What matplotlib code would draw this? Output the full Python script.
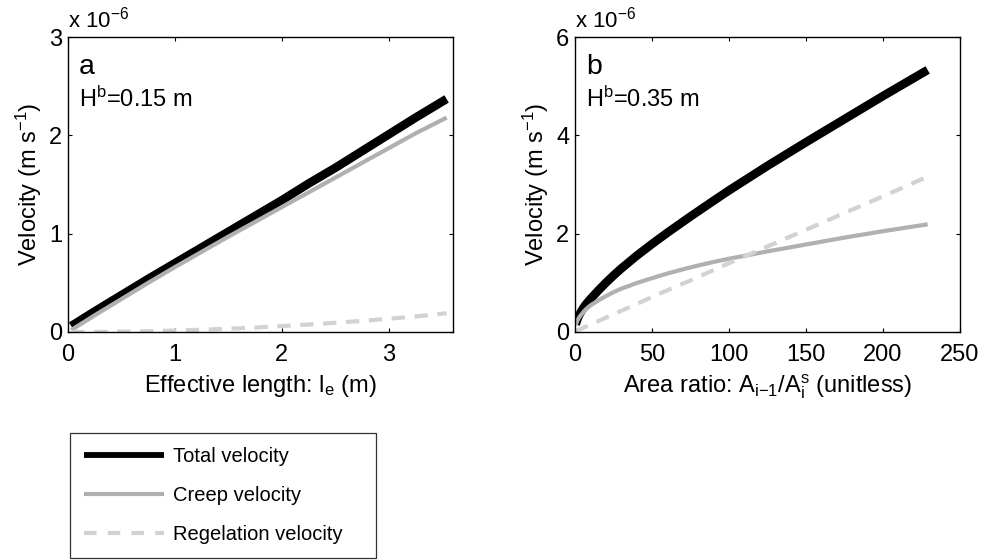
import matplotlib
matplotlib.use("Agg")
import matplotlib.pyplot as plt
from matplotlib.lines import Line2D

plt.rcParams['font.family'] = ['Liberation Sans', 'DejaVu Sans']
plt.rcParams['mathtext.fontset'] = 'custom'
plt.rcParams['mathtext.rm'] = 'Liberation Sans'
plt.rcParams['mathtext.it'] = 'Liberation Sans:italic'
plt.rcParams['mathtext.bf'] = 'Liberation Sans:bold'

# Panel a: velocity vs effective length (units of 1e-6 m/s)
length_a = [0.03, 0.25, 0.5, 0.75, 1.0, 1.25, 1.5, 1.75, 2.0, 2.25, 2.5, 2.75, 3.0, 3.25, 3.54]
total_a = [0.06, 0.21, 0.375, 0.54, 0.70, 0.86, 1.02, 1.18, 1.34, 1.51, 1.67, 1.84, 2.01, 2.18, 2.37]
creep_a = [0.02, 0.17, 0.335, 0.50, 0.66, 0.815, 0.97, 1.12, 1.27, 1.42, 1.57, 1.72, 1.87, 2.02, 2.18]
regel_a = [0.0, 0.001, 0.004, 0.008, 0.015, 0.023, 0.033, 0.045, 0.06, 0.076, 0.094, 0.113, 0.135, 0.158, 0.19]

# Panel b: velocity vs area ratio (units of 1e-6 m/s)
ratio_b = [0.5, 1, 2, 3, 5, 7, 10, 15, 20, 25, 30, 40, 50, 60, 75, 90, 100,
           125, 150, 175, 200, 229]
total_b = [0.15, 0.21, 0.30, 0.36, 0.47, 0.56, 0.67, 0.84, 1.00, 1.15, 1.29, 1.55,
           1.79, 2.02, 2.35, 2.67, 2.88, 3.38, 3.86, 4.33, 4.80, 5.33]
creep_b = [0.14, 0.19, 0.26, 0.31, 0.39, 0.46, 0.54, 0.64, 0.73, 0.81, 0.88, 0.995,
           1.095, 1.19, 1.315, 1.425, 1.49, 1.64, 1.78, 1.92, 2.05, 2.19]
regel_b = [0.01, 0.02, 0.04, 0.05, 0.08, 0.11, 0.15, 0.22, 0.29, 0.36, 0.43, 0.57,
           0.71, 0.85, 1.05, 1.26, 1.40, 1.74, 2.08, 2.42, 2.76, 3.16]

xticks_a = [0, 1, 2, 3]
yticks_a = [0, 1, 2, 3]
xticks_b = [0, 50, 100, 150, 200, 250]
yticks_b = [0, 2, 4, 6]

series_labels = ['Total velocity', 'Creep velocity', 'Regelation velocity']

BLACK = 'black'
CREEP = '#b0b0b0'
REGEL = '#d2d2d2'
FS = 17

W, H = 986, 560
fig = plt.figure(figsize=(W / 100, H / 100), dpi=100)


def add_panel(left_px):
    return fig.add_axes([left_px / W, 1 - 332 / H, 385 / W, 295 / H])


def style(ax, xlim, ylim, xt, yt):
    ax.set_xlim(*xlim)
    ax.set_ylim(*ylim)
    ax.set_xticks(xt)
    ax.set_yticks(yt)
    ax.set_xticklabels([str(v) for v in xt])
    ax.set_yticklabels([str(v) for v in yt])
    ax.tick_params(direction='in', length=3.2, width=0.8, top=True, right=True,
                   labelsize=FS)
    ax.tick_params(axis='x', pad=8.5)
    ax.tick_params(axis='y', pad=4)
    for s in ax.spines.values():
        s.set_linewidth(1.0)
    ax.annotate(r'x 10$^{\mathregular{-6}}$', xy=(0, 1), xycoords='axes fraction',
                xytext=(0, 6.5), textcoords='offset points', ha='left',
                va='baseline', fontsize=16)


def draw(ax, x, tot, cr, rg):
    ax.plot(x, tot, color=BLACK, lw=6.2, solid_capstyle='butt', solid_joinstyle='round')
    ax.plot(x, cr, color=CREEP, lw=3.0, solid_capstyle='butt', solid_joinstyle='round')
    ax.plot(x, rg, color=REGEL, lw=3.0, dashes=(3.2, 2.3))


ax_a = add_panel(68)
draw(ax_a, length_a, total_a, creep_a, regel_a)
style(ax_a, (0, 3.6), (0, 3), xticks_a, yticks_a)
ax_a.set_ylabel(r'Velocity (m s$^{\mathregular{-1}}$)', fontsize=FS, labelpad=4)
ax_a.set_xlabel(r'Effective length: l$_{\mathregular{e}}$ (m)', fontsize=FS, labelpad=5)
ax_a.text(0.028, 0.875, 'a', transform=ax_a.transAxes, fontsize=20.5, va='baseline')
ax_a.text(0.028, 0.763, r'H$^{\mathregular{b}}$=0.15 m', transform=ax_a.transAxes,
          fontsize=FS, va='baseline')

ax_b = add_panel(575)
draw(ax_b, ratio_b, total_b, creep_b, regel_b)
style(ax_b, (0, 250), (0, 6), xticks_b, yticks_b)
ax_b.set_ylabel(r'Velocity (m s$^{\mathregular{-1}}$)', fontsize=FS, labelpad=4)
ax_b.set_xlabel(r'Area ratio: A$_{\mathregular{i{-}1}}$/A$_{\mathregular{i}}^{\mathregular{s}}$ (unitless)',
                fontsize=FS, labelpad=5)
ax_b.text(0.028, 0.875, 'b', transform=ax_b.transAxes, fontsize=20.5, va='baseline')
ax_b.text(0.028, 0.763, r'H$^{\mathregular{b}}$=0.35 m', transform=ax_b.transAxes,
          fontsize=FS, va='baseline')

handles = [
    Line2D([], [], color=BLACK, lw=4.2, solid_capstyle='butt'),
    Line2D([], [], color=CREEP, lw=3.0, solid_capstyle='butt'),
    Line2D([], [], color=REGEL, lw=3.0, dashes=(3.0, 2.7)),
]
leg = fig.legend(handles, series_labels, loc='upper left',
                 bbox_to_anchor=(70 / W, 1 - 557 / H, 306 / W, 124 / H),
                 mode='expand', borderaxespad=0, fontsize=14.5,
                 handlelength=4.0, handletextpad=0.45, labelspacing=1.0,
                 borderpad=0.68, fancybox=False, frameon=True)
leg.get_frame().set_edgecolor('black')
leg.get_frame().set_linewidth(0.9)

fig.savefig('out.png', dpi=100)
